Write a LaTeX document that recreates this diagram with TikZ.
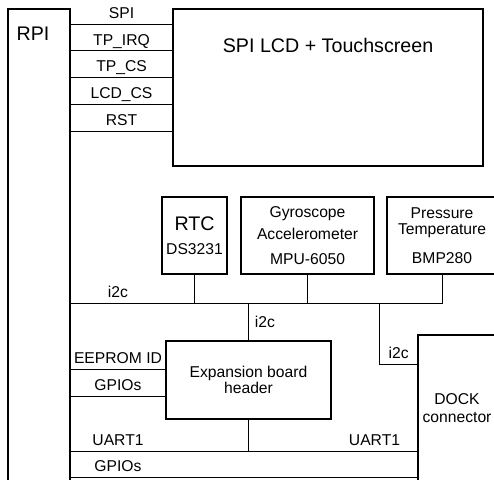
\documentclass[tikz,border=0pt]{standalone}
\usepackage{fontspec}
\setmainfont{Liberation Sans}
\usetikzlibrary{positioning,calc}
\newcommand{\bigtxt}{\fontsize{14.8}{17}\selectfont}
\tikzset{
  blk/.style={draw=black, line width=1pt, align=center, inner sep=0pt, outer sep=0pt, minimum width=#1},
  wire/.style={draw=black, line width=0.75pt},
  sig/.style={anchor=base, yshift=4.5pt, inner sep=0pt}
}

\begin{document}
\begin{tikzpicture}[font=\fontsize{11.8}{13.6}\selectfont]
  \useasboundingbox (0,0) rectangle (13.07,-12.675);

  % main boxes
  \node[blk=1.64cm, anchor=north west, minimum height=12.8cm,
        label={[anchor=base west, xshift=6.3pt, yshift=-23.8pt, inner sep=0pt, font=\bigtxt]north west:RPI}] (rpi) at (0.212,-0.238) {};
  \node[blk=8.203cm, anchor=north west, minimum height=4.154cm,
        label={[anchor=base, yshift=-32.8pt, inner sep=0pt, font=\bigtxt]north:SPI LCD + Touchscreen}] (lcd) at (4.578,-0.238) {};

  % sensors
  \node[blk=1.72cm, anchor=north west, minimum height=2.037cm] (rtc) at (4.287,-5.213) {{\bigtxt RTC}\\[4.6pt]DS3231};
  \node[blk=3.519cm, right=0.37cm of rtc, minimum height=2.037cm] (gyro) {Gyroscope\\[2.6pt]Accelerometer\\[5.4pt]MPU-6050};
  \node[blk=2.911cm, right=0.344cm of gyro, minimum height=2.037cm] (press) {Pressure\\[-1.1pt]Temperature\\[7.9pt]BMP280};

  \node[blk=4.366cm, anchor=north west, minimum height=2.064cm] (exp) at (4.392,-9.023) {Expansion board\\[-1.1pt]header};
  \node[blk=2.064cm, anchor=north west, minimum height=3.863cm] (dock) at (11.06,-8.864) {DOCK\\[-0.6pt]connector};

  % lcd signals
  \foreach \sname [count=\i] in {SPI,TP\_IRQ,TP\_CS,LCD\_CS,RST}
    \draw[wire] (lcd.north west) ++(0,{-0.397-0.714*(\i-1)}) coordinate (s\i) -- (rpi.east |- s\i) node[sig, midway] (sl\i) {\sname};

  % i2c bus
  \coordinate (i2cbus) at ([yshift=-0.767cm]rtc.south);
  \coordinate (lblx) at ($(rpi.east)!0.5!(exp.west)$);
  \draw[wire] (rpi.east |- i2cbus) -| (press.south);
  \draw[wire] (rtc.south) -- (rtc.south |- i2cbus);
  \draw[wire] (gyro.south) -- (gyro.south |- i2cbus);
  \node[sig] (i2cl) at (lblx |- i2cbus) {i2c};
  \draw[wire] (exp.north |- i2cbus) -- (exp.north) node[midway, anchor=west, inner sep=0pt, xshift=4.5pt] (i2ce) {i2c};
  \coordinate (dk) at ([yshift=-0.767cm]dock.north west);
  \draw[wire] (dk) -- ++(-1.024,0) node[sig, midway] (i2cd) {i2c} coordinate (dkc) -- (dkc |- i2cbus);

  % expansion header signals
  \draw[wire] ([yshift=-0.741cm]exp.north west) coordinate (e1) -- (rpi.east |- e1) node[sig, midway] (eel) {EEPROM ID};
  \draw[wire] ([yshift=-1.455cm]exp.north west) coordinate (e2) -- (rpi.east |- e2) node[sig, midway] (egl) {GPIOs};

  % dock signals
  \coordinate (uart) at ([yshift=-3.069cm]dock.north west);
  \coordinate (gpio) at ([yshift=-3.757cm]dock.north west);
  \draw[wire] (rpi.east |- uart) -- (uart);
  \draw[wire] (exp.south) -- (exp.south |- uart);
  \draw[wire] (rpi.east |- gpio) -- (gpio);
  \node[sig] (ul1) at (lblx |- uart) {UART1};
  \node[sig] (ul2) at ($(exp.east |- uart)!0.5!(uart)$) {UART1};
  \node[sig] (gl) at (lblx |- gpio) {GPIOs};
\end{tikzpicture}
\end{document}
